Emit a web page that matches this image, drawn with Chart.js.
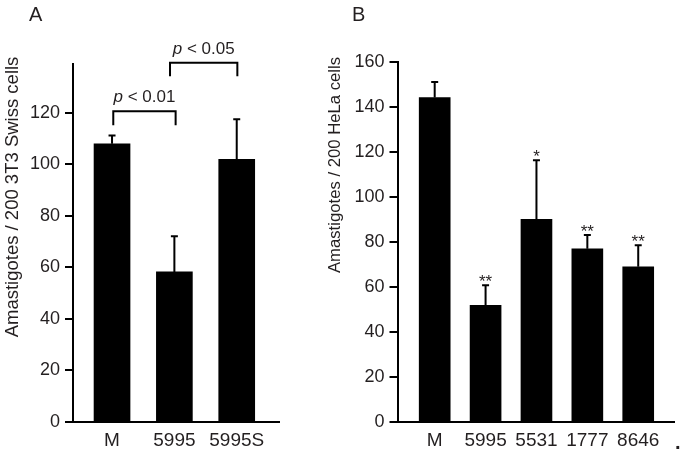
<!DOCTYPE html>
<html>
<head>
<meta charset="utf-8">
<script src="https://cdn.jsdelivr.net/npm/chart.js@4/dist/chart.umd.min.js"></script>
<style>
  body { margin: 0; background: #fff; }
  #wrap { position: relative; width: 680px; height: 457px; overflow: hidden; font-family: "Liberation Sans", Arial, sans-serif; color: #231f20; }
  canvas { position: absolute; top: 0; }
  .panel { position: absolute; font-size: 20px; line-height: 1; }
</style>
</head>
<body>
<div id="wrap">
  <canvas id="chartA" width="318" height="457" style="left:0"></canvas>
  <canvas id="chartB" width="362" height="457" style="left:318px"></canvas>
  <div class="panel" style="left:29px; top:4px">A</div>
  <div class="panel" style="left:352px; top:4px">B</div>
  <div class="panel" style="left:675px; top:432px; font-weight:bold">.</div>
</div>
<script>
// panel A - 3T3 Swiss cells
var catsA = ['M', '5995', '5995S'];
var meanA = [108, 58.2, 102];
var errA = [111.6, 72.5, 117.9];
var bracketsA = [
  { from: 0.02, to: 1.02, y: 120.6, leg: 115.2, text: '< 0.01' },
  { from: 0.93, to: 2.01, y: 139.5, leg: 134.2, text: '< 0.05' }
];

// panel B - HeLa cells
var catsB = ['M', '5995', '5531', '1777', '8646'];
var meanB = [144.3, 51.8, 90.1, 77, 69];
var errB = [151.7, 61.2, 116.8, 83.6, 79];
var starsB = ['', '**', '*', '**', '**'];

var FONT = '"Liberation Sans", Arial, sans-serif';
var INK = '#231f20';

Chart.defaults.font.family = FONT;
Chart.defaults.color = INK;

function extras(errTop, brackets, stars, title) {
  return {
    id: 'extras',
    afterDatasetsDraw: function (chart) {
      var ctx = chart.ctx, xs = chart.scales.x, ys = chart.scales.y;
      var means = chart.data.datasets[0].data;
      ctx.save();
      ctx.strokeStyle = '#000';
      ctx.fillStyle = '#000';
      ctx.lineWidth = 2;
      // error bars (upper only)
      errTop.forEach(function (e, i) {
        var x = xs.getPixelForValue(i);
        var y0 = ys.getPixelForValue(means[i].y);
        var y1 = ys.getPixelForValue(e);
        ctx.beginPath();
        ctx.moveTo(x, y0);
        ctx.lineTo(x, y1);
        ctx.moveTo(x - 3.5, y1 + 1);
        ctx.lineTo(x + 3.5, y1 + 1);
        ctx.stroke();
      });
      // significance brackets
      brackets.forEach(function (b) {
        var xa = xs.getPixelForValue(b.from), xb = xs.getPixelForValue(b.to);
        var yl = ys.getPixelForValue(b.y), yd = ys.getPixelForValue(b.leg);
        ctx.beginPath();
        ctx.moveTo(xa, yd);
        ctx.lineTo(xa, yl);
        ctx.lineTo(xb, yl);
        ctx.lineTo(xb, yd);
        ctx.stroke();
        ctx.fillStyle = INK;
        ctx.textBaseline = 'alphabetic';
        ctx.textAlign = 'left';
        ctx.font = 'italic 17px ' + FONT;
        var wp = ctx.measureText('p').width;
        ctx.font = '17px ' + FONT;
        var wt = ctx.measureText(' ' + b.text).width;
        var x0 = (xa + xb) / 2 - (wp + wt) / 2;
        ctx.font = 'italic 17px ' + FONT;
        ctx.fillText('p', x0, yl - 9);
        ctx.font = '17px ' + FONT;
        ctx.fillText(' ' + b.text, x0 + wp, yl - 9);
      });
      // asterisks
      stars.forEach(function (s, i) {
        if (!s) return;
        ctx.fillStyle = INK;
        ctx.font = '17px ' + FONT;
        ctx.textAlign = 'center';
        ctx.textBaseline = 'alphabetic';
        ctx.fillText(s, xs.getPixelForValue(i), ys.getPixelForValue(errTop[i]) + 3);
      });
      // y axis title
      ctx.translate(title.x, title.y);
      ctx.rotate(-Math.PI / 2);
      ctx.fillStyle = INK;
      ctx.font = title.size + 'px ' + FONT;
      ctx.textAlign = 'center';
      ctx.textBaseline = 'alphabetic';
      ctx.fillText(title.text, 0, 0);
      ctx.restore();
    }
  };
}

function makeChart(id, cats, means, errTop, brackets, stars, opt) {
  return new Chart(document.getElementById(id), {
    type: 'bar',
    data: {
      datasets: [{
        data: means.map(function (v, i) { return { x: i, y: v }; }),
        backgroundColor: '#000',
        borderWidth: 0,
        barThickness: opt.barW
      }]
    },
    options: {
      responsive: false,
      animation: false,
      devicePixelRatio: 1,
      layout: { padding: { top: opt.top, right: opt.right, left: 0, bottom: 0 } },
      plugins: { legend: { display: false }, tooltip: { enabled: false } },
      scales: {
        x: {
          type: 'linear',
          offset: false,
          min: opt.xmin,
          max: opt.xmax,
          afterBuildTicks: function (s) { s.ticks = cats.map(function (c, i) { return { value: i }; }); },
          afterFit: function (s) { s.height = 457 - 421.7; },
          ticks: {
            callback: function (v) { return cats[v]; },
            font: { size: 19 },
            color: INK,
            padding: 8,
            maxRotation: 0,
            autoSkip: false
          },
          grid: { display: false, drawTicks: false, offset: false },
          border: { display: true, color: '#000', width: 2 }
        },
        y: {
          min: 0,
          max: opt.ymax,
          afterFit: function (s) { s.width = opt.axisX; },
          ticks: { stepSize: 20, includeBounds: false, font: { size: 18 }, color: INK, padding: 5 },
          grid: { display: true, drawOnChartArea: false, drawTicks: true, tickLength: 8, color: '#000', lineWidth: 2 },
          border: { display: true, color: '#000', width: 2 }
        }
      }
    },
    plugins: [extras(errTop, brackets, stars, opt.title)]
  });
}

makeChart('chartA', catsA, meanA, errA, bracketsA, [], {
  barW: 36, top: 64, right: 318 - 279, axisX: 73, ymax: 139,
  xmin: -0.626, xmax: 2.678,
  title: { x: 17.5, y: 197, size: 18.5, text: 'Amastigotes / 200 3T3 Swiss cells' }
});

makeChart('chartB', catsB, meanB, errB, [], starsB, {
  barW: 31, top: 62.3, right: 680 - 674.3, axisX: 397.5 - 318, ymax: 160,
  xmin: -0.731, xmax: 4.709,
  title: { x: 339.7 - 318, y: 165, size: 16.7, text: 'Amastigotes / 200 HeLa cells' }
});
</script>
</body>
</html>
